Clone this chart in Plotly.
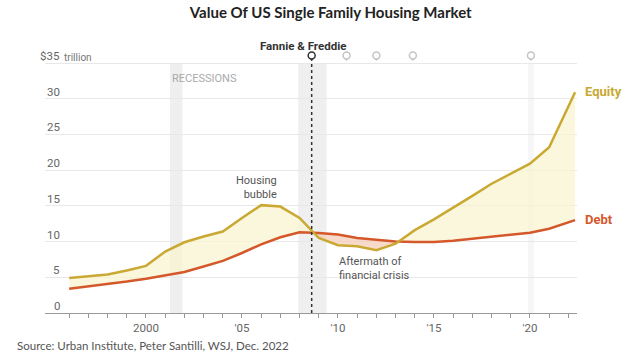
import plotly.graph_objects as go
import numpy as np

# ---------------- data ----------------
years = [1996, 1997, 1998, 1999, 2000, 2001, 2002, 2003, 2004, 2005, 2006, 2007, 2008,
         2009, 2010, 2011, 2012, 2013, 2014, 2015, 2016, 2017, 2018, 2019, 2020, 2021, 2022.35]
equity = [4.9, 5.15, 5.4, 5.95, 6.6, 8.6, 9.9, 10.7, 11.4, 13.3, 15.1, 14.9, 13.3,
          10.5, 9.5, 9.35, 8.8, 9.7, 11.6, 13.1, 14.7, 16.4, 18.1, 19.5, 20.9, 23.2, 30.9]
debt = [3.4, 3.7, 4.0, 4.4, 4.8, 5.3, 5.75, 6.5, 7.3, 8.4, 9.6, 10.6, 11.3,
        11.2, 11.0, 10.5, 10.3, 10.0, 9.95, 9.95, 10.1, 10.4, 10.7, 11.05, 11.25, 11.8, 13.0]

recessions = [(2001.25, 2001.9), (2007.93, 2009.41), (2019.9, 2020.2)]
recession_alpha = [0.55, 0.55, 0.3]
pin_years = [2008.63, 2010.45, 2012.0, 2013.9, 2020.05]
fannie_year = 2008.63

x_tick_years = list(range(1996, 2023))
x_tick_labels = {2000: "2000", 2005: "'05", 2010: "'10", 2015: "'15", 2020: "'20"}
y_tick_vals = [0, 5, 10, 15, 20, 25, 30, 35]
y_tick_text = ["0", "5", "10", "15", "20", "25", "30", "$35"]

X_RANGE = [1994.74, 2022.45]
Y_RANGE = [0, 36.82]

EQ_COLOR = "#c9a933"
DEBT_COLOR = "#d4582a"
FILL_UP = "rgba(250,244,210,0.75)"
FILL_DOWN = "rgba(245,205,185,0.75)"


def xp(v):
    return (v - X_RANGE[0]) / (X_RANGE[1] - X_RANGE[0])


def yp(v):
    return (v - Y_RANGE[0]) / (Y_RANGE[1] - Y_RANGE[0])


fig = go.Figure()

# ---------------- fills between the series ----------------
x = np.array(years, dtype=float)
e = np.array(equity)
d = np.array(debt)
diff = e - d
seg_x, seg_e, seg_d = [x[0]], [e[0]], [d[0]]
segments = []
for i in range(1, len(x)):
    if np.sign(diff[i]) != np.sign(diff[i - 1]) and diff[i] != 0 and diff[i - 1] != 0:
        t = diff[i - 1] / (diff[i - 1] - diff[i])
        xc = x[i - 1] + t * (x[i] - x[i - 1])
        yc = e[i - 1] + t * (e[i] - e[i - 1])
        seg_x.append(xc); seg_e.append(yc); seg_d.append(yc)
        segments.append((seg_x, seg_e, seg_d, diff[i - 1] > 0))
        seg_x, seg_e, seg_d = [xc], [yc], [yc]
    seg_x.append(x[i]); seg_e.append(e[i]); seg_d.append(d[i])
segments.append((seg_x, seg_e, seg_d, diff[-1] > 0))

for sx, se, sd, up in segments:
    fig.add_trace(go.Scatter(
        x=list(sx) + list(sx[::-1]), y=list(se) + list(sd[::-1]),
        fill="toself", fillcolor=FILL_UP if up else FILL_DOWN,
        line=dict(width=0), mode="lines", hoverinfo="skip", showlegend=False))

# ---------------- lines ----------------
fig.add_trace(go.Scatter(x=years, y=debt, mode="lines",
                         line=dict(color=DEBT_COLOR, width=2.5), showlegend=False))
fig.add_trace(go.Scatter(x=years, y=equity, mode="lines",
                         line=dict(color=EQ_COLOR, width=2.5), showlegend=False))

# ---------------- pins ----------------
pin_colors = ["#333333"] + ["#c4c4c4"] * (len(pin_years) - 1)
fig.add_trace(go.Scatter(x=pin_years, y=[35.55] * len(pin_years), mode="markers",
                         marker=dict(symbol="triangle-down", size=4, color=pin_colors),
                         cliponaxis=False, showlegend=False, hoverinfo="skip"))
fig.add_trace(go.Scatter(x=pin_years, y=[36.05] * len(pin_years), mode="markers",
                         marker=dict(symbol="circle", size=7, color="white",
                                     line=dict(color=pin_colors, width=1.5)),
                         cliponaxis=False, showlegend=False, hoverinfo="skip"))

# ---------------- shapes ----------------
shapes = []
for (a, b), al in zip(recessions, recession_alpha):
    shapes.append(dict(type="rect", xref="x", yref="y", x0=a, x1=b, y0=0, y1=35,
                       fillcolor=f"rgba(225,225,225,{al})", line=dict(width=0), layer="below"))
shapes.append(dict(type="line", xref="x", yref="y", x0=fannie_year, x1=fannie_year,
                   y0=0, y1=35.4, line=dict(color="#333333", width=1.5, dash="dot")))

# ---------------- annotations ----------------
LBL_FONT = "Liberation Sans Narrow, Roboto, Arial, sans-serif"
ann = []
for v, t in zip(y_tick_vals, y_tick_text):
    ann.append(dict(xref="paper", yref="y", x=(62 - 45) / 532, y=v, text=t,
                    xanchor="right", yanchor="bottom", showarrow=False, yshift=-2,
                    font=dict(family=LBL_FONT, size=11.5, color="#666666")))
ann.append(dict(xref="paper", yref="y", x=(61.5 - 45) / 532, y=35, text="trillion",
                xanchor="left", yanchor="bottom", showarrow=False, yshift=-2,
                font=dict(family=LBL_FONT, size=10, color="#777777")))

ann += [
    dict(xref="x", yref="y", x=2001.25, y=32.9, text="RECESSIONS", xanchor="left",
         yanchor="middle", showarrow=False,
         font=dict(family=LBL_FONT, size=11, color="#aaaaaa")),
    dict(xref="paper", yref="paper", x=xp(fannie_year - 0.45), y=yp(37.45),
         text="<b>Fannie & Freddie</b>",
         xanchor="center", yanchor="middle", showarrow=False,
         font=dict(family=LBL_FONT, size=11.5, color="#333333")),
    dict(xref="x", yref="y", x=2006.95, y=17.6, text="Housing<br>bubble", xanchor="right",
         align="right", yanchor="middle", showarrow=False,
         font=dict(family="Roboto, sans-serif", size=11, color="#555555")),
    dict(xref="x", yref="y", x=2009.93, y=6.2, text="Aftermath of<br>financial crisis",
         xanchor="left", align="left", yanchor="middle", showarrow=False,
         font=dict(family="Roboto, sans-serif", size=11, color="#555555")),
    dict(xref="paper", yref="paper", x=xp(2022.74), y=yp(31.0), text="<b>Equity</b>",
         xanchor="left", yanchor="middle", showarrow=False,
         font=dict(family="Roboto, sans-serif", size=13, color=EQ_COLOR)),
    dict(xref="paper", yref="paper", x=xp(2022.74), y=yp(13.06), text="<b>Debt</b>",
         xanchor="left", yanchor="middle", showarrow=False,
         font=dict(family="Roboto, sans-serif", size=13, color=DEBT_COLOR)),
    dict(xref="paper", yref="paper", x=(15 - 45) / 532, y=(313 - 345) / 263,
         text="Source: Urban Institute, Peter Santilli, WSJ, Dec. 2022", xanchor="left",
         yanchor="middle", showarrow=False,
         font=dict(family="Lato, sans-serif", size=11.5, color="#555555")),
]

fig.update_layout(
    width=630, height=356,
    margin=dict(l=45, r=53, t=50, b=43),
    paper_bgcolor="white", plot_bgcolor="white",
    title=dict(text="<b>Value Of US Single Family Housing Market</b>", x=0.525, y=0.963,
               xanchor="center", yanchor="middle",
               font=dict(family="Lato, sans-serif", size=15, color="#222222")),
    shapes=shapes, annotations=ann,
    xaxis=dict(range=X_RANGE, tickvals=x_tick_years,
               ticktext=[x_tick_labels.get(y, "") for y in x_tick_years],
               showgrid=False, zeroline=False, showline=True, linecolor="#999999",
               linewidth=1, ticks="outside", ticklen=4, tickcolor="#999999",
               tickfont=dict(family=LBL_FONT, size=11.5, color="#666666")),
    yaxis=dict(range=Y_RANGE, tickvals=y_tick_vals, showticklabels=False,
               showgrid=True, gridcolor="#e8e8e8", gridwidth=1, zeroline=False,
               showline=False, ticks=""),
)

fig.write_html("out.html", config={"displayModeBar": False},
               post_script="document.body.style.margin='0';document.body.style.overflow='hidden';")
